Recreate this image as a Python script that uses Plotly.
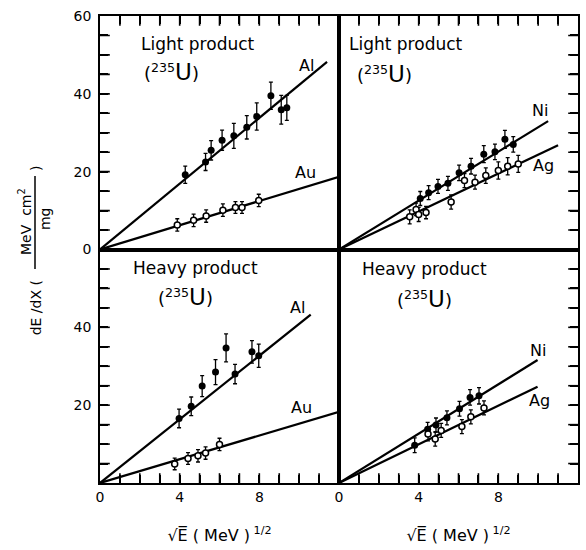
import plotly.graph_objects as go
from plotly.subplots import make_subplots

# ---------------- data ----------------
# Top-left: light product, Al (filled) and Au (open)
tl_al_x = [4.28, 5.3, 5.58, 6.13, 6.72, 7.37, 7.87, 8.58, 9.1, 9.38]
tl_al_y = [19.2, 22.5, 25.5, 28.1, 29.2, 31.4, 34.2, 39.5, 35.9, 36.4]
tl_al_e = [2.2, 2.2, 2.5, 2.6, 3.2, 3.0, 3.5, 3.5, 3.7, 3.2]
tl_au_x = [3.88, 4.7, 5.33, 6.17, 6.8, 7.13, 7.97]
tl_au_y = [6.3, 7.5, 8.6, 10.1, 10.8, 10.8, 12.6]
tl_au_e = [1.6, 1.6, 1.6, 1.6, 1.5, 1.5, 1.6]
tl_al_fit_x = [0, 11.4]
tl_al_fit_y = [0, 48.2]
tl_au_fit_x = [0, 12.0]
tl_au_fit_y = [0, 18.7]

# Top-right: light product, Ni (filled) and Ag (open)
tr_ni_x = [4.08, 4.5, 4.97, 5.47, 6.03, 6.63, 7.27, 7.83, 8.33, 8.75]
tr_ni_y = [13.1, 14.6, 16.2, 17.0, 19.7, 21.4, 24.5, 25.1, 28.3, 27.0]
tr_ni_e = [1.8, 1.8, 1.8, 1.8, 2.0, 2.0, 2.2, 2.0, 2.3, 2.0]
tr_ag_x = [3.55, 3.87, 4.0, 4.37, 5.63, 6.3, 6.83, 7.37, 8.0, 8.47, 9.0]
tr_ag_y = [8.4, 10.3, 9.0, 9.5, 12.2, 17.7, 17.3, 19.0, 20.3, 21.4, 22.0]
tr_ag_e = [1.8, 1.6, 1.8, 1.6, 1.8, 1.8, 1.8, 2.0, 2.2, 2.2, 2.2]
tr_ni_fit_x = [0, 10.5]
tr_ni_fit_y = [0, 33.0]
tr_ag_fit_x = [0, 11.0]
tr_ag_fit_y = [0, 26.8]

# Bottom-left: heavy product, Al (filled) and Au (open)
bl_al_x = [3.97, 4.58, 5.13, 5.8, 6.33, 6.78, 7.63, 7.97]
bl_al_y = [16.6, 19.7, 24.9, 28.5, 34.7, 28.0, 33.7, 32.7]
bl_al_e = [2.4, 2.4, 2.7, 3.2, 3.6, 2.5, 2.9, 3.0]
bl_au_x = [3.75, 4.42, 4.92, 5.3, 6.0]
bl_au_y = [4.9, 6.3, 7.0, 7.7, 9.9]
bl_au_e = [1.5, 1.5, 1.6, 1.6, 1.6]
bl_al_fit_x = [0, 10.58]
bl_al_fit_y = [0, 43.25]
bl_au_fit_x = [0, 12.0]
bl_au_fit_y = [0, 18.3]

# Bottom-right: heavy product, Ni (filled) and Ag (open)
br_ni_x = [3.8, 4.45, 4.87, 5.42, 6.05, 6.58, 7.03]
br_ni_y = [9.7, 13.8, 14.9, 16.75, 19.1, 22.0, 22.4]
br_ni_e = [1.9, 1.8, 1.8, 1.8, 1.9, 2.0, 2.1]
br_ag_x = [4.47, 4.83, 5.13, 6.17, 6.62, 7.28]
br_ag_y = [12.6, 11.3, 13.5, 14.5, 17.0, 19.3]
br_ag_e = [1.8, 1.8, 1.8, 1.8, 1.8, 1.8]
br_ni_fit_x = [0, 9.97]
br_ni_fit_y = [0, 31.6]
br_ag_fit_x = [0, 9.97]
br_ag_fit_y = [0, 24.75]

x_tick_vals = [0, 1, 2, 3, 4, 5, 6, 7, 8, 9, 10, 11, 12]
x_tick_text_left = ["0", "", "", "", "4", "", "", "", "8", "", "", "", ""]
x_tick_text_right = ["0", "", "", "", "4", "", "", "", "8", "", "", "", "12"]
y_tick_vals = [0, 5, 10, 15, 20, 25, 30, 35, 40, 45, 50, 55, 60]
y_tick_text_top = ["0", "", "", "", "20", "", "", "", "40", "", "", "", "60"]
y_tick_text_bottom = ["", "", "", "", "20", "", "", "", "40", "", "", "", ""]
X_RANGE = [0, 12]
Y_RANGE = [0, 60]

FONT = "DejaVu Sans"

fig = make_subplots(rows=2, cols=2, horizontal_spacing=0, vertical_spacing=0)


def add_panel(row, col, fx, fy, fe, ox, oy, oe, f1x, f1y, f2x, f2y):
    for lx, ly in ((f1x, f1y), (f2x, f2y)):
        fig.add_trace(go.Scatter(x=lx, y=ly, mode="lines",
                                 line=dict(color="black", width=2.2)), row=row, col=col)
    fig.add_trace(go.Scatter(x=fx, y=fy, mode="markers",
                             marker=dict(symbol="circle", size=7, color="black"),
                             error_y=dict(type="data", array=fe, color="black",
                                          thickness=1.3, width=2)), row=row, col=col)
    fig.add_trace(go.Scatter(x=ox, y=oy, mode="markers",
                             marker=dict(symbol="circle", size=6, color="white",
                                         line=dict(color="black", width=1.5)),
                             error_y=dict(type="data", array=oe, color="black",
                                          thickness=1.3, width=2)), row=row, col=col)


def add_edge_ticks(row, col, x_edge_y, y_edge_x):
    # inward tick marks along a horizontal edge and a vertical edge (clipped to the plot area)
    inner_x = x_tick_vals[1:-1]
    inner_y = y_tick_vals[1:-1]
    fig.add_trace(go.Scatter(x=inner_x, y=[x_edge_y] * len(inner_x), mode="markers",
                             cliponaxis=True, hoverinfo="skip",
                             marker=dict(symbol="line-ns", size=14,
                                         line=dict(color="black", width=1.6))),
                  row=row, col=col)
    fig.add_trace(go.Scatter(x=[y_edge_x] * len(inner_y), y=inner_y, mode="markers",
                             cliponaxis=True, hoverinfo="skip",
                             marker=dict(symbol="line-ew", size=14,
                                         line=dict(color="black", width=1.6))),
                  row=row, col=col)


add_panel(1, 1, tl_al_x, tl_al_y, tl_al_e, tl_au_x, tl_au_y, tl_au_e,
          tl_al_fit_x, tl_al_fit_y, tl_au_fit_x, tl_au_fit_y)
add_panel(1, 2, tr_ni_x, tr_ni_y, tr_ni_e, tr_ag_x, tr_ag_y, tr_ag_e,
          tr_ni_fit_x, tr_ni_fit_y, tr_ag_fit_x, tr_ag_fit_y)
add_panel(2, 1, bl_al_x, bl_al_y, bl_al_e, bl_au_x, bl_au_y, bl_au_e,
          bl_al_fit_x, bl_al_fit_y, bl_au_fit_x, bl_au_fit_y)
add_panel(2, 2, br_ni_x, br_ni_y, br_ni_e, br_ag_x, br_ag_y, br_ag_e,
          br_ni_fit_x, br_ni_fit_y, br_ag_fit_x, br_ag_fit_y)

add_edge_ticks(1, 1, Y_RANGE[1], X_RANGE[0])
add_edge_ticks(1, 2, Y_RANGE[1], X_RANGE[1])
add_edge_ticks(2, 1, Y_RANGE[0], X_RANGE[0])
add_edge_ticks(2, 2, Y_RANGE[0], X_RANGE[1])

common = dict(showline=True, linewidth=1.8, linecolor="black", mirror=True,
              showgrid=False, zeroline=False, ticks="inside", tickcolor="black",
              tickwidth=2, ticklen=8, tickmode="array",
              tickfont=dict(family=FONT, size=14, color="black"))

xtitle = dict(text="\u221aE\u0305 ( MeV )<sup> 1/2</sup>",
              font=dict(family=FONT, size=16, color="black"), standoff=26)

for c in (1, 2):
    fig.update_xaxes(row=1, col=c, range=X_RANGE, side="top", showticklabels=False,
                     tickvals=x_tick_vals, **common)
fig.update_xaxes(row=2, col=1, range=X_RANGE, tickvals=x_tick_vals,
                 ticktext=x_tick_text_left, title=xtitle, **common)
fig.update_xaxes(row=2, col=2, range=X_RANGE, tickvals=x_tick_vals,
                 ticktext=x_tick_text_right, title=xtitle, **common)

fig.update_yaxes(row=1, col=1, range=Y_RANGE, tickvals=y_tick_vals,
                 ticktext=y_tick_text_top, ticklabelstandoff=4, **common)
fig.update_yaxes(row=2, col=1, range=Y_RANGE, tickvals=y_tick_vals,
                 ticktext=y_tick_text_bottom, ticklabelstandoff=4, **common)
for r in (1, 2):
    fig.update_yaxes(row=r, col=2, range=Y_RANGE, side="right", showticklabels=False,
                     tickvals=y_tick_vals, **common)

# panel texts
def txt(text, x, y, xref, yref, size=17):
    fig.add_annotation(text=text, x=x, y=y, xref=xref, yref=yref, showarrow=False,
                       xanchor="center", yanchor="middle",
                       font=dict(family=FONT, size=size, color="black"))

U = "(<sup>235</sup><span style='font-size:23px'>U</span>)"
panels = [("x", "y", "Light product", 4.9, 52.9, 3.6, 45.6, "Al", 10.35, 47.3, "Au", 10.3, 19.8),
          ("x2", "y2", "Light product", 3.35, 52.9, 2.3, 45.1, "Ni", 10.1, 35.6, "Ag", 10.25, 21.6),
          ("x3", "y3", "Heavy product", 4.78, 55.25, 4.3, 47.8, "Al", 9.9, 45.0, "Au", 10.1, 19.5),
          ("x4", "y4", "Heavy product", 4.3, 55.0, 4.3, 47.3, "Ni", 10.0, 34.0, "Ag", 10.05, 21.25)]
for xr, yr, t1, t1x, t1y, ux, uy, a, ax, ay, b, bx, by in panels:
    txt(t1, t1x, t1y, xr, yr)
    txt(U, ux, uy, xr, yr, size=18)
    txt(a, ax, ay, xr, yr, size=16)
    txt(b, bx, by, xr, yr, size=16)

# y-axis title built as rotated pieces (fraction)
L, R, T, B = 100, 578, 12, 488
def px(x):
    return (x - L) / (R - L)
def py(y):
    return (B - y) / (B - T)

def rtxt(text, x, y, size=14):
    fig.add_annotation(text=text, x=px(x), y=py(y), xref="paper", yref="paper",
                       showarrow=False, textangle=-90, xanchor="center", yanchor="middle",
                       font=dict(family=FONT, size=size, color="black"))

rtxt("dE /dX (", 36, 310)
rtxt("MeV  cm<sup>2</sup>", 25, 222)
rtxt("mg", 45, 219)
rtxt(")", 36, 168)
fig.add_shape(type="line", xref="paper", yref="paper", x0=px(35), x1=px(35),
              y0=py(270), y1=py(175), line=dict(color="black", width=1.5))

fig.update_layout(width=586, height=550, margin=dict(l=100, r=8, t=12, b=62),
                  plot_bgcolor="white", paper_bgcolor="white", showlegend=False)

fig.write_html("out.html")
